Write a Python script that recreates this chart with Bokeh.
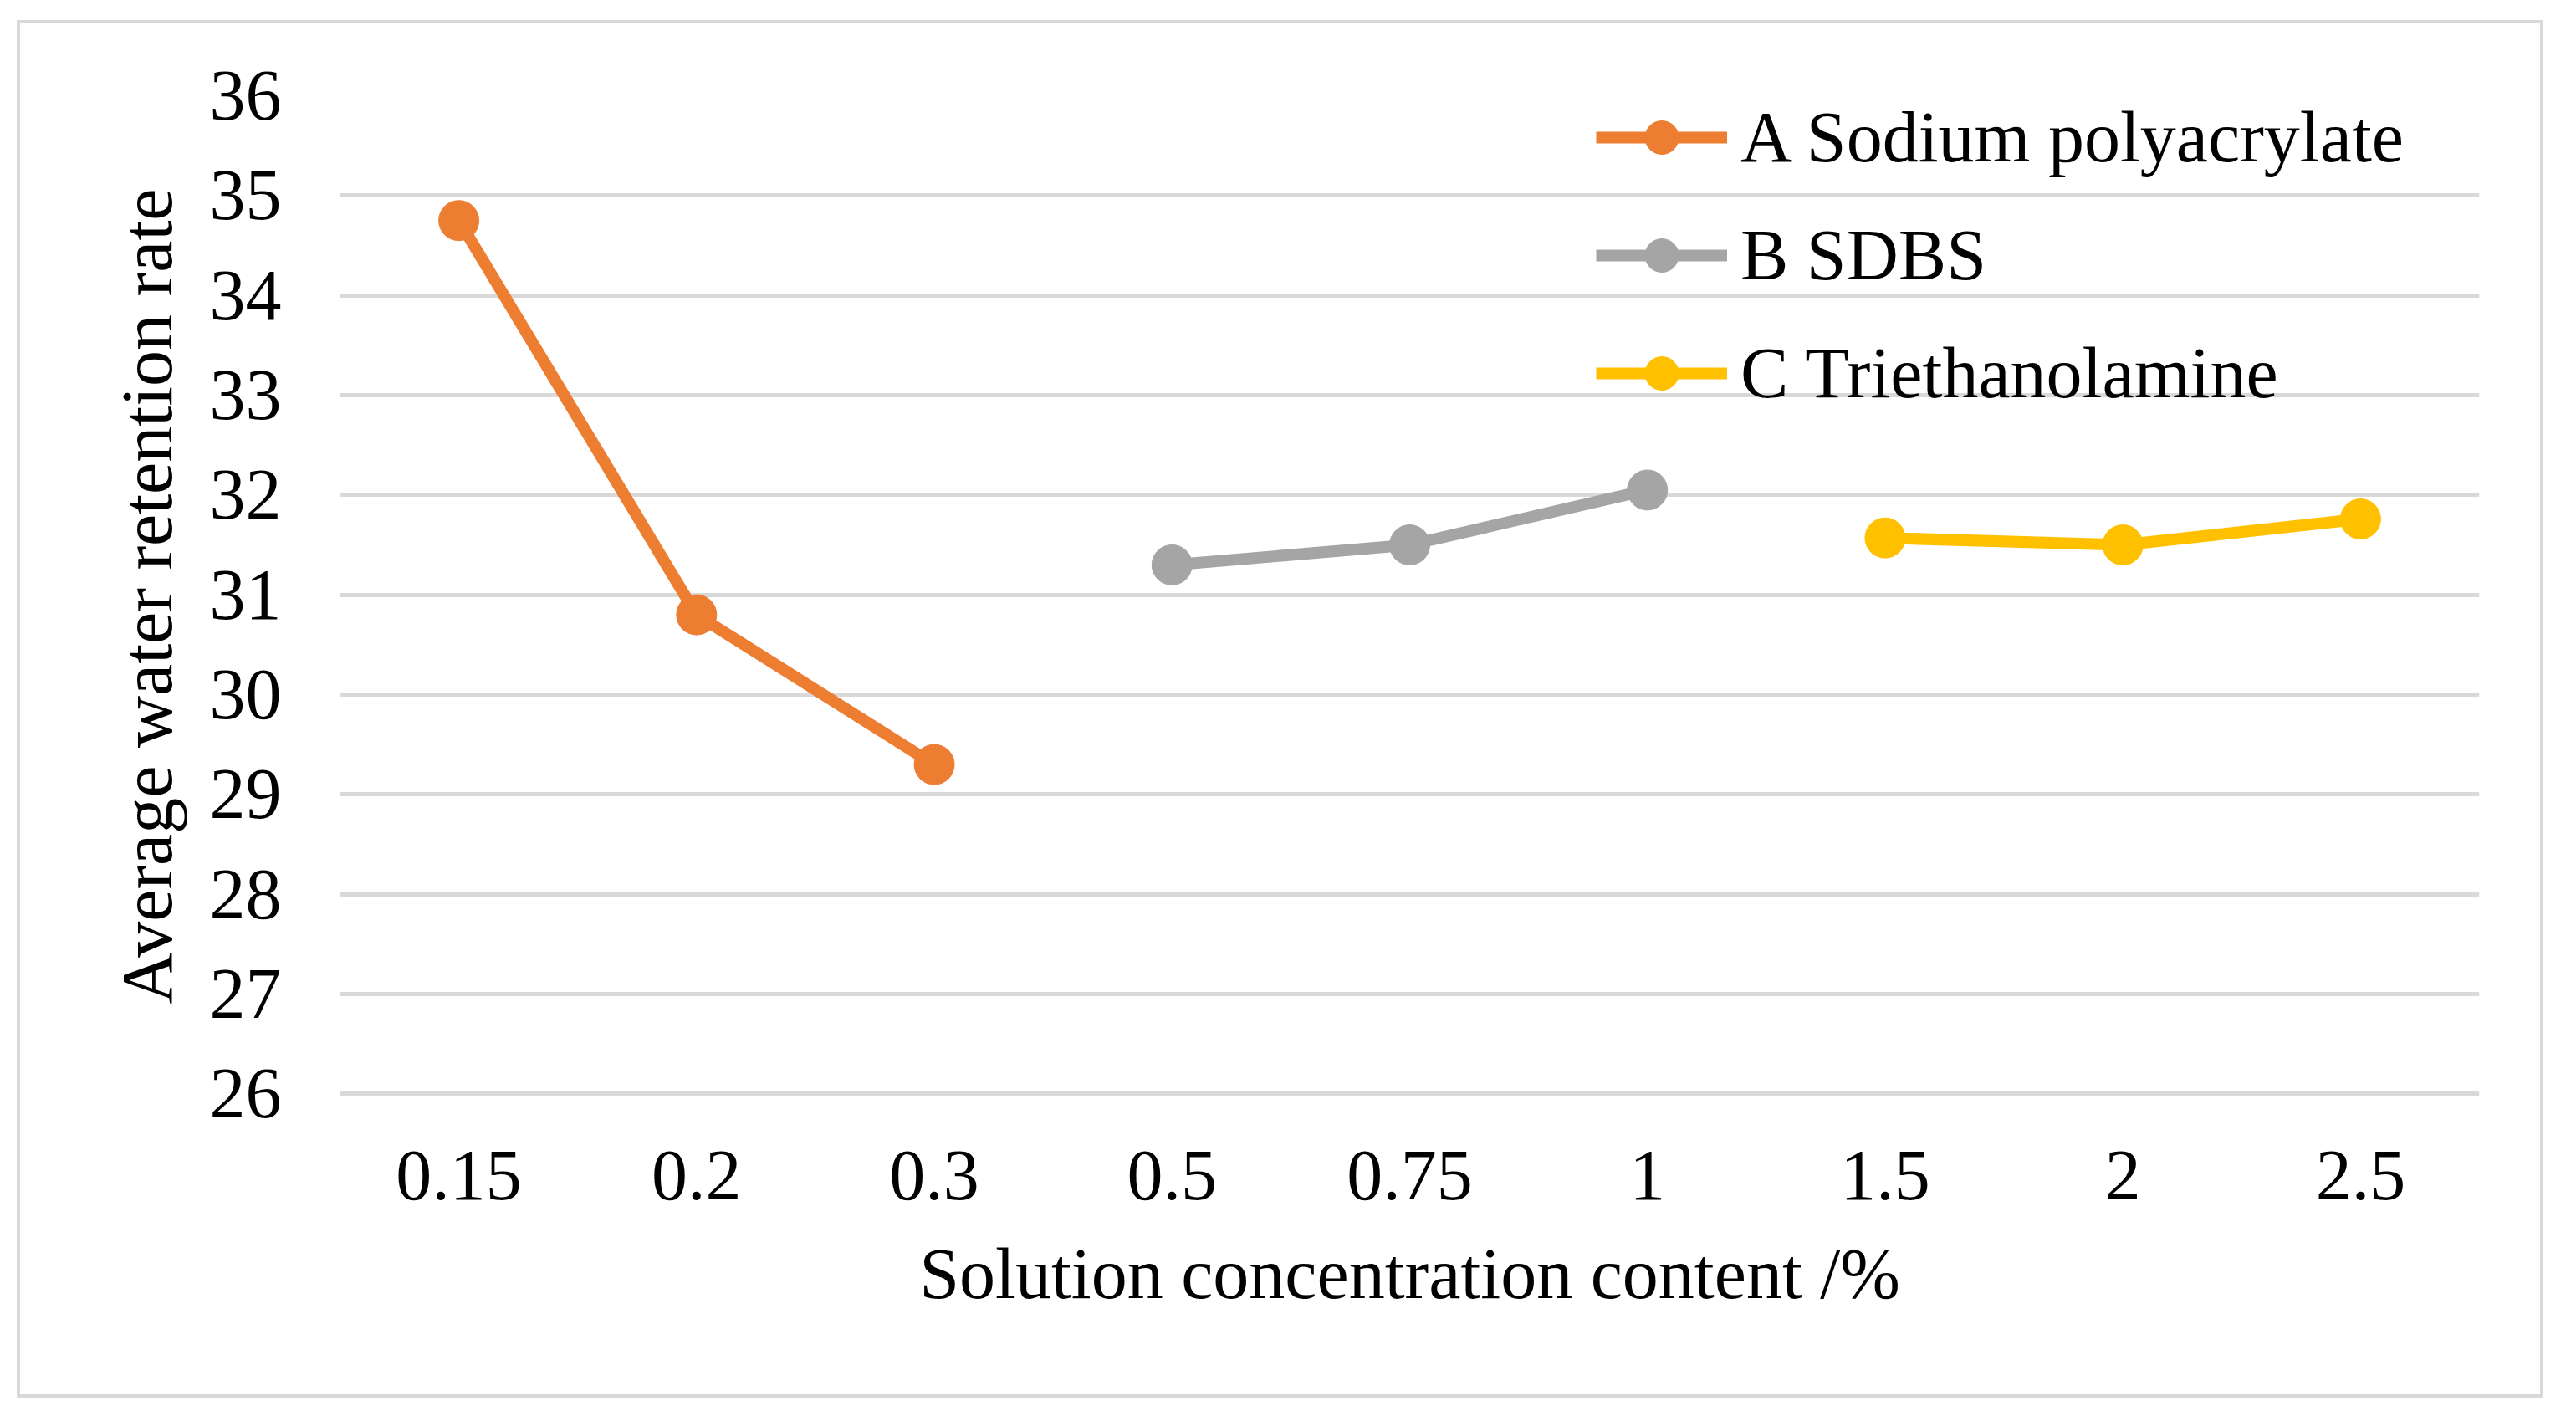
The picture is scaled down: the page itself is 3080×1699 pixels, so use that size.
from bokeh.plotting import figure
from bokeh.models import FactorRange, Range1d, FixedTicker, Legend, LegendItem
from bokeh.embed import file_html
from bokeh.resources import INLINE

categories = ["0.15", "0.2", "0.3", "0.5", "0.75", "1", "1.5", "2", "2.5"]
series_names = ["A Sodium polyacrylate", "B SDBS", "C Triethanolamine"]
a_x = ["0.15", "0.2", "0.3"]
a_y = [34.75, 30.8, 29.3]
b_x = ["0.5", "0.75", "1"]
b_y = [31.3, 31.5, 32.05]
c_x = ["1.5", "2", "2.5"]
c_y = [31.57, 31.5, 31.76]
y_ticks = [26, 27, 28, 29, 30, 31, 32, 33, 34, 35, 36]
colors = ["#ED7D31", "#A5A5A5", "#FFC000"]

FONT = "Liberation Serif"
FS = "86px"

p = figure(width=3021, height=1647, x_range=FactorRange(*categories),
           y_range=Range1d(25.97, 36), output_backend="svg", toolbar_location=None,
           min_border_left=382, min_border_right=81, min_border_top=86,
           min_border_bottom=364)
p.styles = {"border": "4px solid #D9D9D9"}
p.margin = (24, 0, 0, 20)
p.outline_line_color = None
p.background_fill_color = "white"
p.border_fill_color = "white"

p.xgrid.grid_line_color = None
p.ygrid.grid_line_color = "#D9D9D9"
p.ygrid.grid_line_width = 5
p.yaxis.ticker = FixedTicker(ticks=y_ticks)

for ax in (p.xaxis[0], p.yaxis[0]):
    ax.axis_line_color = None
    ax.major_tick_line_color = None
    ax.minor_tick_line_color = None
    ax.major_label_text_font = FONT
    ax.major_label_text_font_size = FS
    ax.major_label_text_color = "black"
    ax.axis_label_text_font = FONT
    ax.axis_label_text_font_size = FS
    ax.axis_label_text_font_style = "normal"
    ax.axis_label_text_color = "black"

p.yaxis.major_label_standoff = 64
p.yaxis.axis_label_standoff = 24
p.xaxis.major_label_standoff = 59
p.xaxis.axis_label_standoff = 38
p.xaxis.axis_label = "Solution concentration content /%"
p.yaxis.axis_label = "Average water retention rate"

items = []
for name, xs, ys, col in zip(series_names, [a_x, b_x, c_x], [a_y, b_y, c_y], colors):
    l = p.line(xs, ys, line_color=col, line_width=14)
    s = p.scatter(xs, ys, size=48, fill_color=col, line_color=col)
    items.append(LegendItem(label=name, renderers=[l, s]))

legend = Legend(items=items, location=(1502, 815), orientation="vertical")
legend.label_text_font = FONT
legend.label_text_font_size = FS
legend.label_text_color = "black"
legend.glyph_width = 157
legend.glyph_height = 100
legend.label_height = 100
legend.label_standoff = 16
legend.spacing = 41
legend.padding = 0
legend.margin = 0
legend.border_line_color = None
legend.background_fill_alpha = 0
p.add_layout(legend, "center")

open("out.html", "w").write(file_html(p, INLINE))
